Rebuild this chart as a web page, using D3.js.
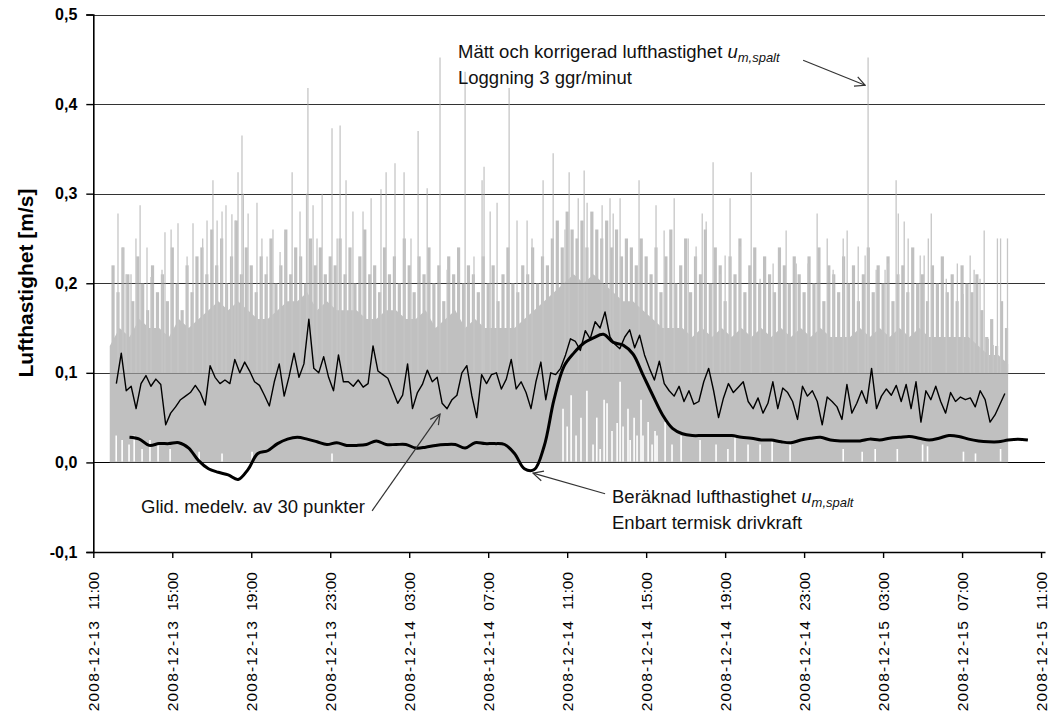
<!DOCTYPE html>
<html>
<head>
<meta charset="utf-8">
<script src="https://cdn.jsdelivr.net/npm/d3@7"></script>
<style>
  body { margin: 0; background: #fff; }
  svg { display: block; font-family: Arial, "Liberation Sans", sans-serif; }
</style>
</head>
<body>
<script>
var w = 1049;
var h = 722;

// time is kept as hours after 2008-12-13 11:00
var startTime = new Date(2008, 11, 13, 11, 0);
var axisHours = 48.2;
var xTickHours = [0, 4, 8, 12, 16, 20, 24, 28, 32, 36, 40, 44, 48];
var yTicks = [-0.1, 0, 0.1, 0.2, 0.3, 0.4, 0.5];

// logged air speed, solid part of the band, every 30 min from 11:50
var rawStart = 0.833;
var rawStep = 0.5;
var rawTop = [
  0.13, 0.15, 0.14, 0.16, 0.15, 0.15, 0.14, 0.16, 0.15, 0.16,
  0.17, 0.18, 0.17, 0.18, 0.17, 0.16, 0.16, 0.17, 0.18, 0.18,
  0.19, 0.17, 0.18, 0.17, 0.17, 0.17, 0.16, 0.16, 0.17, 0.17,
  0.16, 0.16, 0.17, 0.15, 0.16, 0.17, 0.15, 0.16, 0.15, 0.15,
  0.15, 0.15, 0.16, 0.17, 0.18, 0.19, 0.20, 0.21, 0.20, 0.21,
  0.20, 0.19, 0.18, 0.18, 0.17, 0.16, 0.15, 0.15, 0.15, 0.14,
  0.15, 0.14, 0.15, 0.14, 0.15, 0.14, 0.15, 0.14, 0.15, 0.14,
  0.15, 0.14, 0.15, 0.14, 0.14, 0.14, 0.15, 0.14, 0.15, 0.14,
  0.15, 0.14, 0.15, 0.14, 0.14, 0.14, 0.14, 0.14, 0.13, 0.12,
  0.12, 0.11
];

// highest logged reading in each 15 min, from 12:00
var peakStart = 1.0;
var peakStep = 0.25;
var peakValues = [
  0.22, 0.19, 0.24, 0.21, 0.18, 0.23, 0.20, 0.17, 0.22, 0.19,
  0.21, 0.18, 0.24, 0.20, 0.17, 0.22, 0.19, 0.23, 0.24, 0.21,
  0.26, 0.22, 0.25, 0.20, 0.23, 0.27, 0.21, 0.24, 0.22, 0.19,
  0.23, 0.21, 0.25, 0.20, 0.22, 0.26, 0.21, 0.24, 0.23, 0.20,
  0.25, 0.22, 0.24, 0.21, 0.23, 0.22, 0.25, 0.21, 0.24, 0.20,
  0.23, 0.26, 0.21, 0.22, 0.19, 0.24, 0.21, 0.23, 0.20, 0.25,
  0.22, 0.19, 0.23, 0.21, 0.24, 0.20, 0.22, 0.18, 0.23, 0.21,
  0.24, 0.20, 0.22, 0.21, 0.19, 0.23, 0.20, 0.22, 0.18, 0.21,
  0.24, 0.20, 0.19, 0.22, 0.21, 0.24, 0.20, 0.23, 0.22, 0.25,
  0.27, 0.24, 0.28, 0.26, 0.25, 0.27, 0.24, 0.28, 0.26, 0.25,
  0.27, 0.24, 0.26, 0.23, 0.25, 0.24, 0.22, 0.25, 0.23, 0.21,
  0.24, 0.19, 0.23, 0.26, 0.20, 0.22, 0.25, 0.19, 0.23, 0.21,
  0.26, 0.20, 0.24, 0.22, 0.18, 0.23, 0.21, 0.25, 0.19, 0.22,
  0.24, 0.20, 0.23, 0.21, 0.19, 0.24, 0.22, 0.20, 0.23, 0.21,
  0.19, 0.23, 0.20, 0.24, 0.18, 0.22, 0.21, 0.19, 0.23, 0.20,
  0.22, 0.18, 0.21, 0.24, 0.19, 0.22, 0.20, 0.23, 0.18, 0.21,
  0.22, 0.19, 0.24, 0.20, 0.21, 0.18, 0.22, 0.20, 0.23, 0.19,
  0.21, 0.18, 0.22, 0.20, 0.19, 0.21, 0.17, 0.14, 0.16, 0.13,
  0.18, 0.15
];

// single readings that stick out above the band: [hour, value]
var spikes = [
  [1.25, 0.278], [1.50, 0.24], [1.66, 0.21], [1.91, 0.21], [2.16, 0.25],
  [2.37, 0.287], [2.72, 0.24], [2.92, 0.207], [3.48, 0.215], [3.63, 0.257],
  [3.94, 0.26], [4.29, 0.267], [4.75, 0.23], [5.05, 0.267], [5.54, 0.25],
  [5.76, 0.27], [6.06, 0.315], [6.27, 0.27], [6.52, 0.28], [6.72, 0.287],
  [7.02, 0.277], [7.18, 0.27], [7.33, 0.324], [7.53, 0.365], [7.60, 0.30],
  [7.84, 0.278], [8.29, 0.29], [8.54, 0.25], [8.80, 0.23], [9.10, 0.26],
  [9.46, 0.235], [9.71, 0.257], [10.07, 0.324], [10.47, 0.28], [10.80, 0.30],
  [10.87, 0.418], [11.13, 0.287], [11.33, 0.25], [11.59, 0.30], [12.09, 0.373],
  [12.35, 0.25], [12.50, 0.376], [12.80, 0.315], [13.15, 0.28], [13.66, 0.28],
  [14.07, 0.295], [14.57, 0.305], [14.83, 0.324], [15.28, 0.334], [15.74, 0.324],
  [16.09, 0.25], [16.45, 0.37], [16.91, 0.306], [17.56, 0.452], [17.92, 0.215],
  [18.83, 0.436], [19.28, 0.23], [19.69, 0.315], [19.79, 0.33], [20.10, 0.28],
  [20.45, 0.29], [21.06, 0.418], [21.46, 0.27], [21.97, 0.27], [22.22, 0.25],
  [22.78, 0.315], [23.29, 0.345], [23.89, 0.26], [24.10, 0.324], [24.56, 0.295],
  [24.86, 0.326], [25.01, 0.29], [25.77, 0.287], [26.17, 0.295], [26.33, 0.278],
  [26.68, 0.295], [27.64, 0.315], [28.50, 0.287], [28.91, 0.259], [29.42, 0.295],
  [30.13, 0.25], [30.53, 0.241], [30.84, 0.278], [31.04, 0.269], [31.39, 0.335],
  [31.75, 0.21], [32.00, 0.231], [32.25, 0.295], [32.76, 0.241], [33.32, 0.324],
  [33.77, 0.205], [34.43, 0.222], [35.09, 0.259], [35.60, 0.222], [36.20, 0.222],
  [36.66, 0.278], [37.17, 0.25], [37.47, 0.215], [37.98, 0.25], [38.18, 0.259],
  [38.74, 0.241], [39.09, 0.231], [39.24, 0.452], [39.65, 0.215], [40.10, 0.215],
  [40.26, 0.222], [40.66, 0.315], [40.77, 0.278], [41.07, 0.269], [41.27, 0.25],
  [41.88, 0.231], [42.08, 0.231], [42.29, 0.25], [42.44, 0.278], [43.20, 0.205],
  [43.76, 0.222], [44.06, 0.188], [44.41, 0.231], [44.61, 0.215], [44.91, 0.205],
  [45.12, 0.259], [45.33, 0.138], [45.58, 0.131], [45.79, 0.25], [45.95, 0.25],
  [46.30, 0.25]
];

// stretches near the bottom without readings: [hour, top of the gap]
var gaps = [
  [1.16, 0.03], [1.46, 0.025], [1.81, 0.02], [2.07, 0.03], [2.47, 0.015],
  [2.87, 0.025], [3.28, 0.02], [3.89, 0.015], [5.36, 0.012], [6.52, 0.01],
  [8.04, 0.012], [12.09, 0.01], [23.79, 0.06], [24.0, 0.04], [24.2, 0.075],
  [24.45, 0.03], [24.7, 0.05], [25.0, 0.08], [25.31, 0.02], [25.5, 0.05],
  [25.67, 0.015], [25.87, 0.07], [26.02, 0.066], [26.27, 0.035], [26.53, 0.044],
  [26.68, 0.09], [26.83, 0.04], [27.08, 0.06], [27.19, 0.025], [27.39, 0.05],
  [27.54, 0.03], [27.74, 0.07], [27.84, 0.03], [28.1, 0.045], [28.3, 0.02],
  [28.45, 0.035], [28.55, 0.03], [28.96, 0.045], [29.31, 0.02], [29.77, 0.03],
  [30.73, 0.025], [31.54, 0.02], [32.14, 0.015], [32.5, 0.03], [33.16, 0.02],
  [33.77, 0.02], [34.38, 0.025], [35.29, 0.02], [37.98, 0.015], [38.94, 0.012],
  [39.6, 0.015], [40.72, 0.015], [42.0, 0.02], [42.25, 0.018], [44.07, 0.012],
  [44.68, 0.01], [45.95, 0.015]
];

// moving average of 30 points, every 15 min from 12:10
var avgStart = 1.167;
var avgStep = 0.25;
var avgValues = [
  0.088, 0.122, 0.080, 0.085, 0.060, 0.088, 0.097, 0.085, 0.093, 0.087,
  0.042, 0.055, 0.062, 0.070, 0.074, 0.078, 0.086, 0.078, 0.064, 0.108,
  0.095, 0.088, 0.092, 0.088, 0.115, 0.100, 0.112, 0.102, 0.090, 0.086,
  0.075, 0.063, 0.090, 0.110, 0.074, 0.096, 0.122, 0.095, 0.110, 0.160,
  0.105, 0.100, 0.118, 0.095, 0.080, 0.120, 0.090, 0.090, 0.085, 0.092,
  0.084, 0.088, 0.130, 0.102, 0.098, 0.094, 0.080, 0.066, 0.075, 0.110,
  0.060, 0.078, 0.087, 0.103, 0.090, 0.095, 0.066, 0.060, 0.070, 0.075,
  0.100, 0.108, 0.075, 0.050, 0.098, 0.088, 0.098, 0.100, 0.082, 0.093,
  0.115, 0.082, 0.090, 0.078, 0.060, 0.090, 0.112, 0.070, 0.100, 0.098,
  0.105, 0.120, 0.138, 0.135, 0.125, 0.147, 0.138, 0.157, 0.150, 0.168,
  0.140, 0.132, 0.127, 0.140, 0.148, 0.128, 0.142, 0.120, 0.105, 0.092,
  0.113, 0.088, 0.080, 0.074, 0.085, 0.068, 0.080, 0.065, 0.068, 0.090,
  0.105, 0.080, 0.050, 0.072, 0.088, 0.078, 0.084, 0.090, 0.068, 0.060,
  0.072, 0.055, 0.066, 0.090, 0.060, 0.083, 0.078, 0.068, 0.048, 0.085,
  0.074, 0.080, 0.068, 0.042, 0.073, 0.068, 0.062, 0.048, 0.087, 0.055,
  0.066, 0.080, 0.066, 0.105, 0.060, 0.074, 0.082, 0.075, 0.086, 0.068,
  0.087, 0.060, 0.090, 0.045, 0.080, 0.070, 0.085, 0.068, 0.055, 0.078,
  0.068, 0.073, 0.070, 0.072, 0.062, 0.080, 0.070, 0.045, 0.053, 0.065,
  0.077
];

// calculated air speed, thermal driving force only, every 30 min from 12:50
var calcStart = 1.833;
var calcStep = 0.5;
var calcValues = [
  0.028, 0.026, 0.019, 0.021, 0.021, 0.022, 0.016, 0.002, -0.007, -0.011,
  -0.014, -0.019, -0.008, 0.010, 0.013, 0.021, 0.026, 0.028, 0.026, 0.023,
  0.020, 0.022, 0.019, 0.019, 0.020, 0.024, 0.020, 0.020, 0.020, 0.016,
  0.017, 0.019, 0.020, 0.020, 0.016, 0.022, 0.021, 0.021, 0.020, 0.010,
  -0.007, -0.008, 0.018, 0.070, 0.107, 0.122, 0.133, 0.139, 0.143, 0.134,
  0.131, 0.121, 0.098, 0.075, 0.053, 0.038, 0.032, 0.030, 0.030, 0.030,
  0.030, 0.030, 0.028, 0.027, 0.025, 0.025, 0.023, 0.022, 0.025, 0.027,
  0.028, 0.025, 0.024, 0.024, 0.024, 0.026, 0.025, 0.027, 0.028, 0.029,
  0.027, 0.025, 0.027, 0.030, 0.029, 0.026, 0.024, 0.023, 0.023, 0.025,
  0.026, 0.025
];

var font = 'Arial, "Liberation Sans", sans-serif';

function hourToDate(hr) {
  return new Date(startTime.getTime() + hr * 3600 * 1000);
}

function series(start, step, values) {
  return values.map(function(v, i) {
    return { t: hourToDate(start + i * step), v: v };
  });
}

var svg = d3.select('body').append('svg')
  .attr('width', w)
  .attr('height', h);

var x = d3.scaleTime()
  .domain([startTime, hourToDate(axisHours)])
  .range([93.3, 1045]);

var y = d3.scaleLinear()
  .domain([-0.1, 0.5])
  .range([552, 14.5]);

// arrow heads
svg.append('defs').append('marker')
    .attr('id', 'arrow')
    .attr('viewBox', '0 0 12 12')
    .attr('refX', 11)
    .attr('refY', 6)
    .attr('markerWidth', 12)
    .attr('markerHeight', 12)
    .attr('markerUnits', 'userSpaceOnUse')
    .attr('orient', 'auto')
  .append('path')
    .attr('d', 'M1,1 L11,6 L1,11')
    .attr('fill', 'none')
    .attr('stroke', '#333')
    .attr('stroke-width', 1.2);

// horizontal grid lines
function drawGrid(opacity) {
  svg.append('g')
    .selectAll('line')
    .data(yTicks.filter(function(d) { return d > -0.1; }))
    .enter()
    .append('line')
      .attr('x1', x.range()[0])
      .attr('x2', x.range()[1])
      .attr('y1', function(d) { return Math.round(y(d)) + 0.5; })
      .attr('y2', function(d) { return Math.round(y(d)) + 0.5; })
      .attr('stroke', function(d) { return d === 0 ? '#000' : '#333'; })
      .attr('stroke-width', 1)
      .attr('opacity', opacity);
}
drawGrid(1);

// solid part of the logged values
svg.append('path')
  .datum(series(rawStart, rawStep, rawTop))
  .attr('fill', '#c0c0c0')
  .attr('d', d3.area()
    .x(function(d) { return x(d.t); })
    .y0(y(0))
    .y1(function(d) { return y(d.v); }));

// white gaps at the bottom of the band
svg.append('g')
  .selectAll('line')
  .data(gaps)
  .enter()
  .append('line')
    .attr('x1', function(d) { return x(hourToDate(d[0])); })
    .attr('x2', function(d) { return x(hourToDate(d[0])); })
    .attr('y1', y(0) - 1)
    .attr('y2', function(d) { return y(d[1]); })
    .attr('stroke', '#fff')
    .attr('stroke-width', 1.6);

// highest reading in each 15 min
svg.append('g')
  .selectAll('line')
  .data(series(peakStart, peakStep, peakValues))
  .enter()
  .append('line')
    .attr('x1', function(d) { return x(d.t); })
    .attr('x2', function(d) { return x(d.t); })
    .attr('y1', y(0.1))
    .attr('y2', function(d) { return y(d.v); })
    .attr('stroke', '#c0c0c0')
    .attr('stroke-width', 3.2);

// spikes of the logged values
svg.append('g')
  .selectAll('line')
  .data(spikes)
  .enter()
  .append('line')
    .attr('x1', function(d) { return x(hourToDate(d[0])); })
    .attr('x2', function(d) { return x(hourToDate(d[0])); })
    .attr('y1', y(0.1))
    .attr('y2', function(d) { return y(d[1]); })
    .attr('stroke', '#c6c6c6')
    .attr('stroke-width', 1.3);

// grid shows faintly through the gray
drawGrid(0.45);

// moving average
svg.append('path')
  .datum(series(avgStart, avgStep, avgValues))
  .attr('fill', 'none')
  .attr('stroke', '#000')
  .attr('stroke-width', 1.4)
  .attr('stroke-linejoin', 'round')
  .attr('d', d3.line()
    .x(function(d) { return x(d.t); })
    .y(function(d) { return y(d.v); }));

// calculated speed
svg.append('path')
  .datum(series(calcStart, calcStep, calcValues))
  .attr('fill', 'none')
  .attr('stroke', '#000')
  .attr('stroke-width', 3)
  .attr('stroke-linejoin', 'round')
  .attr('d', d3.line()
    .curve(d3.curveCatmullRom)
    .x(function(d) { return x(d.t); })
    .y(function(d) { return y(d.v); }));

// y axis
var yAxis = svg.append('g')
  .attr('transform', 'translate(' + x.range()[0] + ',0)')
  .call(d3.axisLeft(y)
    .tickValues(yTicks)
    .tickSize(7)
    .tickPadding(9)
    .tickFormat(function(d) {
      return d3.format('.1f')(d).replace('.', ',').replace('\u2212', '-');
    }));

yAxis.select('.domain').attr('stroke-width', 1.6);
yAxis.selectAll('.tick line').attr('stroke-width', 1.4);
yAxis.selectAll('text')
  .attr('font-size', '16px')
  .attr('font-weight', 'bold')
  .attr('font-family', font)
  .attr('fill', '#000');

// x axis at the bottom (-0.1), labels are drawn separately
var xAxis = svg.append('g')
  .attr('transform', 'translate(0,' + y(-0.1) + ')')
  .call(d3.axisBottom(x)
    .tickValues(xTickHours.map(hourToDate))
    .tickSize(6)
    .tickSizeOuter(0)
    .tickFormat(''));

xAxis.select('.domain').attr('stroke-width', 1.6);
xAxis.selectAll('.tick line').attr('stroke-width', 1.4);

var timeFmt = d3.timeFormat('%H:%M');
var dateFmt = d3.timeFormat('%Y-%m-%d');

var xLabels = svg.append('g')
  .attr('font-family', font)
  .attr('font-size', '15.5px')
  .attr('fill', '#000')
  .selectAll('g')
  .data(xTickHours.map(hourToDate))
  .enter()
  .append('g')
    .attr('transform', function(d) {
      return 'translate(' + x(d) + ',' + y(-0.1) + ') rotate(-90)';
    });

xLabels.append('text')
  .attr('x', -20)
  .attr('dy', '0.36em')
  .attr('text-anchor', 'end')
  .text(timeFmt);

xLabels.append('text')
  .attr('x', -68)
  .attr('dy', '0.36em')
  .attr('text-anchor', 'end')
  .attr('letter-spacing', '1.2px')
  .text(dateFmt);

// y axis title
svg.append('text')
  .attr('transform', 'translate(33,283) rotate(-90)')
  .attr('text-anchor', 'middle')
  .attr('font-size', '21px')
  .attr('font-weight', 'bold')
  .text('Lufthastighet [m/s]');

// annotations
function note(tx, ty, lines, withU) {
  var t = svg.append('text')
    .attr('x', tx)
    .attr('y', ty)
    .attr('font-size', '18.5px')
    .attr('fill', '#111');
  lines.forEach(function(s, i) {
    t.append('tspan')
      .attr('x', tx)
      .attr('dy', i === 0 ? 0 : 22)
      .text(s);
    if (i === 0 && withU) {
      t.append('tspan').attr('font-style', 'italic').text(' u');
      t.append('tspan')
        .attr('font-style', 'italic')
        .attr('font-size', '13px')
        .attr('dy', 4)
        .text('m,spalt');
      t.append('tspan').attr('dy', -4).text('');
    }
  });
}

function arrow(h0, v0, h1, v1) {
  svg.append('line')
    .attr('x1', x(hourToDate(h0)))
    .attr('y1', y(v0))
    .attr('x2', x(hourToDate(h1)))
    .attr('y2', y(v1))
    .attr('stroke', '#333')
    .attr('stroke-width', 1.2)
    .attr('marker-end', 'url(#arrow)');
}

note(458, 58, ['Mätt och korrigerad lufthastighet', 'Loggning 3 ggr/minut'], true);
arrow(35.95, 0.449, 39.09, 0.421);

note(141, 513, ['Glid. medelv. av 30 punkter'], false);
arrow(14.12, -0.054, 17.56, 0.054);

note(612, 503, ['Beräknad lufthastighet', 'Enbart termisk drivkraft'], true);
arrow(25.92, -0.035, 22.27, -0.012);
</script>
</body>
</html>
